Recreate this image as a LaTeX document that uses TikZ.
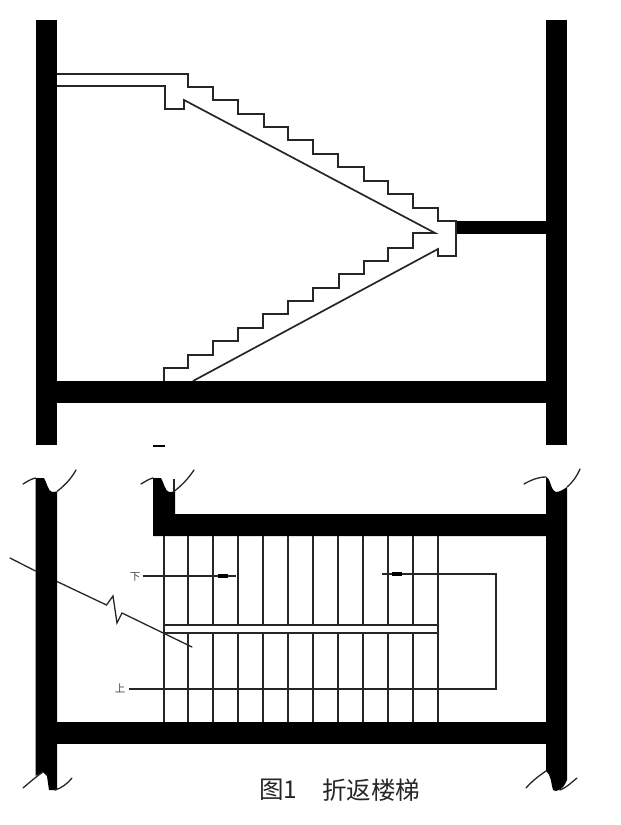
\documentclass[tikz,border=0pt]{standalone}
\usepackage{fontspec}
\newfontfamily\cjk{Noto Sans CJK SC}
\tikzset{
  wall/.style={fill=black,draw=none},
  thin line/.style={draw=black!85,line width=1.7pt,line join=miter},
  break line/.style={draw=black!85,line width=1.3pt,line cap=round},
  label text/.style={inner sep=0pt,text=black!75,font=\cjk\fontsize{10.5}{11}\selectfont},
  caption text/.style={inner sep=0pt,anchor=west,text=black!85,font=\cjk\fontsize{24.5}{25}\selectfont}
}
\begin{document}
\begin{tikzpicture}[x=1pt,y=-1pt]
\useasboundingbox (0,0) rectangle (621,825);
% ---------- section ----------
\fill[wall] (36,20) rectangle (57,445);
\fill[wall] (546,20) rectangle (567,445);
\fill[wall] (57,381) rectangle (546,403);
\fill[wall] (456,221) rectangle (546,234);
% upper flight
\draw[thin line] (57,74) -- (188,74) -- (188,87) -- (213,87) -- (213,100) -- (238,100) -- (238,114)
  -- (264,114) -- (264,127) -- (288,127) -- (288,140) -- (313,140) -- (313,154) -- (338,154)
  -- (338,167) -- (364,167) -- (364,181) -- (388,181) -- (388,194) -- (413,194) -- (413,208)
  -- (438,208) -- (438,221) -- (456,221) -- (456,256) -- (438,256) -- (438,249) -- (193,381);
\draw[thin line] (57,86) -- (165,86) -- (165,109) -- (184,109) -- (184,100) -- (435,233) -- (413,233)
  -- (413,248) -- (388,248) -- (388,261) -- (364,261) -- (364,274) -- (339,274) -- (339,288) -- (313,288)
  -- (313,301) -- (288,301) -- (288,314) -- (263,314) -- (263,328) -- (238,328) -- (238,341) -- (213,341)
  -- (213,355) -- (188,355) -- (188,368) -- (164,368) -- (164,381);
\draw[draw=black,line width=1.7pt] (153,446) -- (165,446);
% ---------- plan: thin lines ----------
\foreach \x in {188,213,238,263,288,313,338,363,388,413} {
  \draw[thin line] (\x,536) -- (\x,625);
  \draw[thin line] (\x,633) -- (\x,722);
}
\draw[thin line] (164,536) -- (164,722);
\draw[thin line] (438,536) -- (438,722);
\draw[thin line] (164,625) -- (438,625);
\draw[thin line] (164,633) -- (438,633);
\draw[thin line] (143,576) -- (236,576);
\fill[black] (218,574) rectangle (228,578);
\draw[thin line] (382,574) -- (496,574) -- (496,689) -- (129,689);
\fill[black] (392,572) rectangle (402,576);
\node[label text] (down) at (135,576.5) {下};
\node[label text] (up) at (120,688) {上};
% break line across the wall
\draw[break line] (10,558) -- (35.5,571);
\draw[break line] (57,581.5) -- (106.5,605) -- (113,596) -- (117,623) -- (122,613) -- (192,647);
% ---------- plan: walls ----------
\fill[wall] (35.5,478) -- (44,478) .. controls (47,483) and (48,491) .. (52,492)
  -- (57,491.5) -- (57,790) -- (49,790) -- (47,776) -- (43,772) -- (35.5,776) -- cycle;
\fill[wall] (57,722) rectangle (546,744);
\fill[wall] (153,478) -- (161,478) .. controls (164,483) and (165,491) .. (169,492)
  -- (175,491.5) -- (175,514) -- (546,514) -- (546,536) -- (153,536) -- cycle;
\fill[wall] (546,477) .. controls (551,478) and (550,490) .. (556,492)
  .. controls (560,492) and (564,489) .. (567,487) -- (567,780)
  .. controls (565,785) and (562,790) .. (556,791) -- (553,790)
  .. controls (551,785) and (552,776) .. (546,771) -- cycle;
% pipe-break ticks
\draw[break line] (23,484) .. controls (28,481) and (31,479) .. (35.5,478);
\draw[break line] (57,491.5) .. controls (65,485) and (71,479) .. (76,470);
\draw[break line] (141,484) .. controls (146,481) and (149,479) .. (153,478);
\draw[break line] (174,491.5) .. controls (182,485) and (188,479) .. (194,470);
\draw[thin line] (174,479) -- (174,492);
\draw[break line] (524,484) .. controls (531,480) and (538,477) .. (546,477);
\draw[break line] (567,487) .. controls (573,482) and (577,476) .. (580,469);
\draw[break line] (23,788) .. controls (30,782) and (37,776) .. (43,772);
\draw[break line] (55,790) .. controls (62,788) and (68,783) .. (72,778);
\draw[break line] (526,788) .. controls (532,781) and (540,775) .. (546,771);
\draw[break line] (560,790) .. controls (566,788) and (572,782) .. (577,778);
% ---------- caption ----------
\node[caption text] (cap) at (259,790) {图1};
\node[caption text] (name) at (322,790) {折返楼梯};
\end{tikzpicture}
\end{document}
